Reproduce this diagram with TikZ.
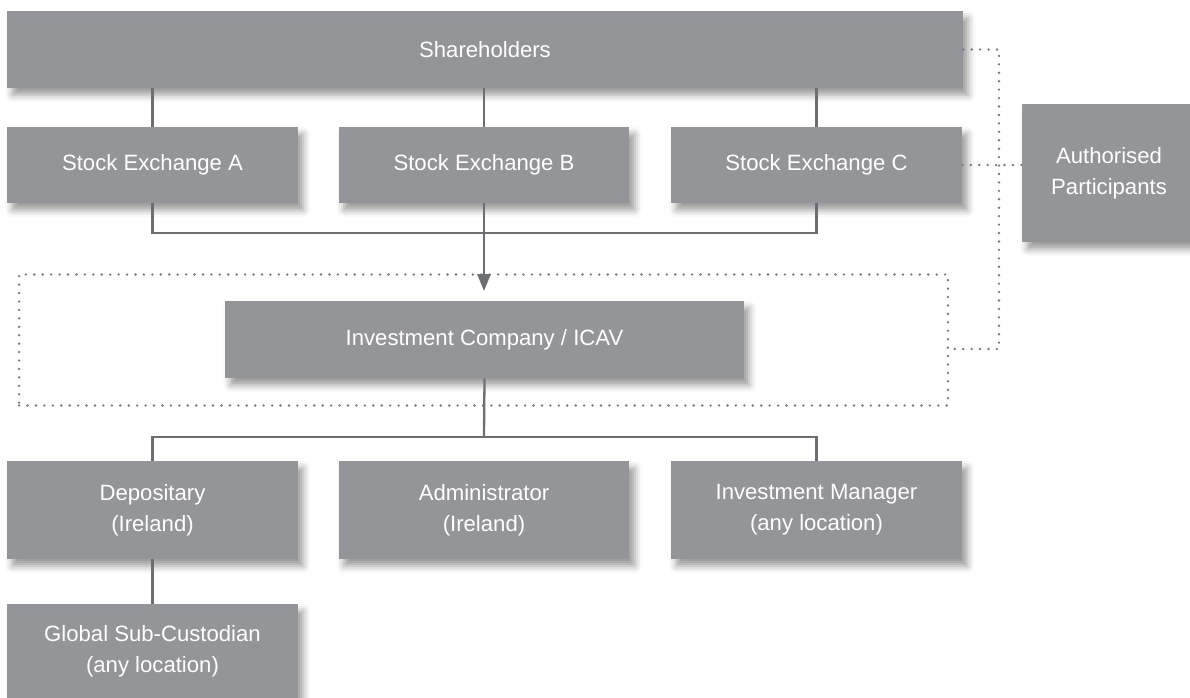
\documentclass[tikz,border=0pt]{standalone}
\usepackage{fontspec}
\setmainfont{Liberation Sans}
\usetikzlibrary{arrows.meta,shadows.blur}
\definecolor{boxgrey}{HTML}{939598}
\definecolor{linegrey}{HTML}{6D6E71}
\definecolor{dotgrey}{HTML}{77787B}

\begin{document}
\begin{tikzpicture}[x=0.02cm, y=-0.02cm,
    box/.style={rectangle, fill=boxgrey, text=white, inner sep=0pt, align=center,
      font=\fontsize{12.6}{17.6}\selectfont,
      blur shadow={shadow xshift=3pt, shadow yshift=-4pt, shadow blur radius=4pt, shadow opacity=40}},
    unit/.style={minimum width=5.82cm, minimum height=1.52cm},
    link/.style={draw=linegrey, line width=1.3pt},
    dots/.style={draw=dotgrey, line width=1.5pt, line cap=round, dash pattern=on 0pt off 4.8pt}]
    \useasboundingbox (0,0) rectangle (1190,697);

    \node[box, minimum width=19.12cm, minimum height=1.54cm] (sh) at (485,49.5) {Shareholders};
    \node[box, unit] (sea) at (152.5,165) {Stock Exchange A};
    \node[box, unit] (seb) at (484,165) {Stock Exchange B};
    \node[box, unit] (sec) at (816.5,165) {Stock Exchange C};
    \node[box, minimum width=3.48cm, minimum height=2.76cm] (ap) at (1109,173) {Authorised\\Participants};

    \node[dots, rectangle, inner sep=0pt, minimum width=18.58cm, minimum height=2.62cm] (frame) at (483.5,340) {};
    \node[box, minimum width=10.38cm, minimum height=1.54cm] (ic) at (484.5,339.5) {Investment Company / ICAV};

    \node[box, unit, minimum height=1.96cm] (dep) at (152.5,510) {Depositary\\(Ireland)};
    \node[box, unit, minimum height=1.96cm] (adm) at (484,510) {Administrator\\(Ireland)};
    \node[box, unit, minimum height=1.96cm] (im) at (816.5,510) {Investment Manager\\(any location)};
    \node[box, unit, minimum height=1.88cm] (gsc) at (152.5,651) {Global Sub-Custodian\\(any location)};

    \coordinate (join) at (484,233);
    \coordinate (tip) at (484,291);
    \coordinate (split) at (484,437);
    \coordinate (bend) at (999,349);

    \draw[link] (sea.north |- sh.south) -- (sea.north);
    \draw[link] (seb.north |- sh.south) -- (seb.north);
    \draw[link] (sec.north |- sh.south) -- (sec.north);
    \draw[link] (sea.south) |- (join) -| (sec.south);
    \draw[link, -{Triangle[length=9.6pt, width=7.4pt]}] (seb.south) -- (tip);

    \draw[link] (ic.south) -- (split);
    \draw[link] (dep.north) |- (split) -| (im.north);
    \draw[link] (dep.south) -- (gsc.north);

    \draw[dots] (sh.east) -| (bend) -- (bend -| frame.east);
    \draw[dots] (sec.east) -- (sec.east -| ap.west);
\end{tikzpicture}
\end{document}
